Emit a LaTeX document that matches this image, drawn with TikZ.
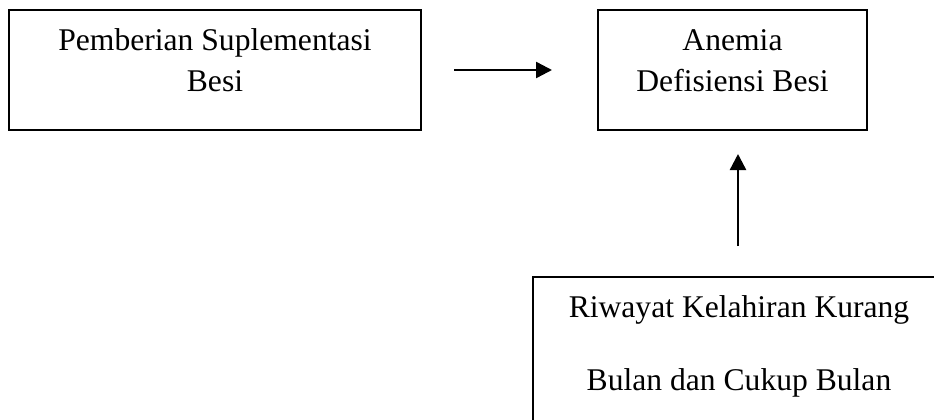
\documentclass[tikz,border=0pt]{standalone}
\usepackage{fontspec}
\setmainfont{Liberation Serif}
\usetikzlibrary{arrows.meta}
\begin{document}
\begin{tikzpicture}[x=1pt,y=-1pt,
  box/.style={draw, line width=2pt, inner sep=0pt},
  txt/.style={anchor=base, inner sep=0pt, font=\fontsize{31.6}{38}\selectfont},
  arr/.style={line width=2.4pt, -{Triangle[length=16pt,width=16pt]}}]
\useasboundingbox (0,0) rectangle (934,420);
\clip (0,0) rectangle (934,420);
\node[box, minimum width=412pt, minimum height=120pt] (b1) at (215,70) {};
\node[box, minimum width=269pt, minimum height=120pt] (b2) at (732.5,70) {};
\node[box, minimum width=427pt, minimum height=183pt] (b3) at (746.5,368.5) {};
\node[txt] (t1a) at (215,51) {Pemberian Suplementasi};
\node[txt] (t1b) at (215,92) {Besi};
\node[txt] (t2a) at (732.5,51) {Anemia};
\node[txt] (t2b) at (732.5,92) {Defisiensi Besi};
\node[txt] (t3a) at (739,317) {Riwayat Kelahiran Kurang};
\node[txt] (t3b) at (739,390) {Bulan dan Cukup Bulan};
\draw[arr, shorten <=32pt, shorten >=45pt] (b1.east) -- (b2.west);
\coordinate (ax) at (738,0);
\draw[arr, shorten <=30pt, shorten >=23pt] (b3.north -| ax) -- (b2.south -| ax);
\end{tikzpicture}
\end{document}
